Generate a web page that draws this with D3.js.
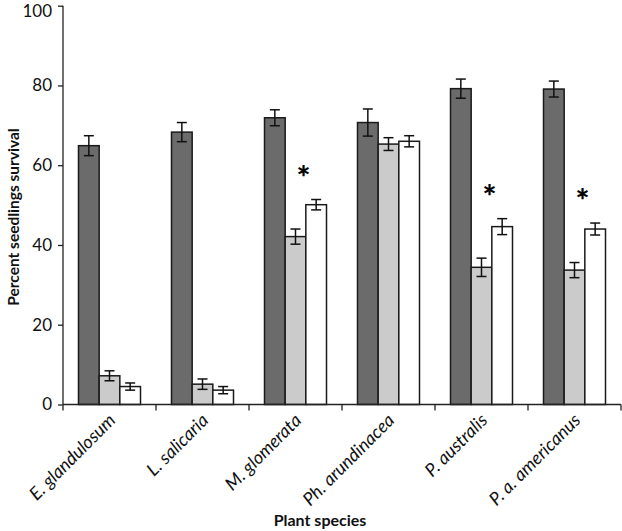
<!DOCTYPE html>
<html><head><meta charset="utf-8">
<script src="https://cdn.jsdelivr.net/npm/d3@7/dist/d3.min.js"></script>
<style>body{margin:0;background:#fff}svg{display:block}</style>
</head><body>
<svg id="chart" width="622" height="531"></svg>
<script>
const categories = ["E. glandulosum","L. salicaria","M. glomerata","Ph. arundinacea","P. australis","P. a. americanus"];
const seriesNames = ["s1","s2","s3"];
const darkValues  = [64.9, 68.3, 71.9, 70.7, 79.2, 79.1];
const darkErr     = [2.5, 2.4, 2.0, 3.4, 2.4, 2.0];
const greyValues  = [7.2, 5.1, 42.1, 65.3, 34.4, 33.7];
const greyErr     = [1.25, 1.3, 1.9, 1.6, 2.3, 1.9];
const whiteValues = [4.5, 3.6, 50.1, 66.0, 44.6, 44.0];
const whiteErr    = [0.9, 0.9, 1.3, 1.4, 2.0, 1.5];
const significant = [false, false, true, false, true, true];
const yTicks = [0, 20, 40, 60, 80, 100];

const font = "Lato, 'Open Sans', sans-serif";
const svg = d3.select("#chart");
const mLeft = 63, mRight = 621, mTop = 5.7, mBottom = 404.5;

const x = d3.scaleBand().domain(categories).range([mLeft, mRight]).paddingInner(0).paddingOuter(0);
const x1 = d3.scaleBand().domain(seriesNames).range([0, 62]).padding(0);
const y = d3.scaleLinear().domain([0, 100]).range([mBottom, mTop]);

const series = [
  {key:"s1", vals: darkValues, errs: darkErr, fill:"#6b6b6b"},
  {key:"s2", vals: greyValues, errs: greyErr, fill:"#cbcbcb"},
  {key:"s3", vals: whiteValues, errs: whiteErr, fill:"#ffffff"}
];

const groupOffset = (x.bandwidth() - 62) / 2;

series.forEach(s => {
  const g = svg.append("g");
  categories.forEach((c, i) => {
    const bx = x(c) + groupOffset + x1(s.key);
    g.append("rect")
      .attr("x", bx).attr("y", y(s.vals[i]))
      .attr("width", x1.bandwidth()).attr("height", y(0) - y(s.vals[i]))
      .attr("fill", s.fill).attr("stroke", "#1a1a1a").attr("stroke-width", 1.5);
  });
});

// error bars
series.forEach(s => {
  categories.forEach((c, i) => {
    const cx = x(c) + groupOffset + x1(s.key) + x1.bandwidth() / 2;
    const hi = y(s.vals[i] + s.errs[i]), lo = y(s.vals[i] - s.errs[i]);
    const g = svg.append("g").attr("stroke", "#111").attr("stroke-width", 1.5);
    g.append("line").attr("x1", cx).attr("x2", cx).attr("y1", hi).attr("y2", lo);
    g.append("line").attr("x1", cx - 5).attr("x2", cx + 5).attr("y1", hi).attr("y2", hi);
    g.append("line").attr("x1", cx - 5).attr("x2", cx + 5).attr("y1", lo).attr("y2", lo);
  });
});

// asterisks
categories.forEach((c, i) => {
  if (!significant[i]) return;
  const topVal = Math.max(greyValues[i] + greyErr[i], whiteValues[i] + whiteErr[i]);
  svg.append("text")
    .attr("x", x(c) + x.bandwidth() / 2 + 8)
    .attr("y", y(topVal + 8) + 21)
    .attr("text-anchor", "middle")
    .attr("font-family", font).attr("font-weight", "900").attr("font-size", 33)
    .text("*");
});

// y axis
const yAxis = svg.append("g").attr("transform", `translate(${mLeft},0)`)
  .call(d3.axisLeft(y).tickValues(yTicks).tickSize(5).tickPadding(6));
yAxis.select(".domain").attr("stroke", "#222").attr("stroke-width", 1.3).attr("d", `M-0,${mTop}V${mBottom}`);
yAxis.selectAll(".tick line").attr("stroke", "#222").attr("stroke-width", 1.3);
yAxis.selectAll(".tick text").attr("font-family", font).attr("font-size", 17).attr("fill", "#111")
  .attr("dy", d => d === 100 ? "0.62em" : "0.32em");

// x axis
const xAxis = svg.append("g").attr("transform", `translate(0,${mBottom})`);
xAxis.append("line").attr("x1", mLeft).attr("x2", mRight).attr("stroke", "#222").attr("stroke-width", 1.3);
const edges = categories.map(c => x(c)).concat([x(categories[categories.length-1]) + x.bandwidth()]);
xAxis.selectAll("line.tk").data(edges).enter().append("line").attr("class","tk")
  .attr("x1", d => d).attr("x2", d => d).attr("y1", 0).attr("y2", 6)
  .attr("stroke", "#222").attr("stroke-width", 1.3);
xAxis.selectAll("text.lbl").data(categories).enter().append("text").attr("class","lbl")
  .attr("transform", d => `translate(${x(d) + x.bandwidth()/2 + 7},${17}) rotate(-45)`)
  .attr("text-anchor", "end")
  .attr("font-family", font).attr("font-style", "italic").attr("font-size", 18).attr("fill", "#111")
  .text(d => d);

// axis titles
svg.append("text")
  .attr("transform", `translate(19,217) rotate(-90)`)
  .attr("text-anchor", "middle")
  .attr("font-family", font).attr("font-weight", "bold").attr("font-size", 15.5).attr("fill", "#111")
  .text("Percent seedlings survival");
svg.append("text")
  .attr("x", 320).attr("y", 526)
  .attr("text-anchor", "middle")
  .attr("font-family", font).attr("font-weight", "bold").attr("font-size", 16).attr("fill", "#111")
  .text("Plant species");
</script>
</body></html>
